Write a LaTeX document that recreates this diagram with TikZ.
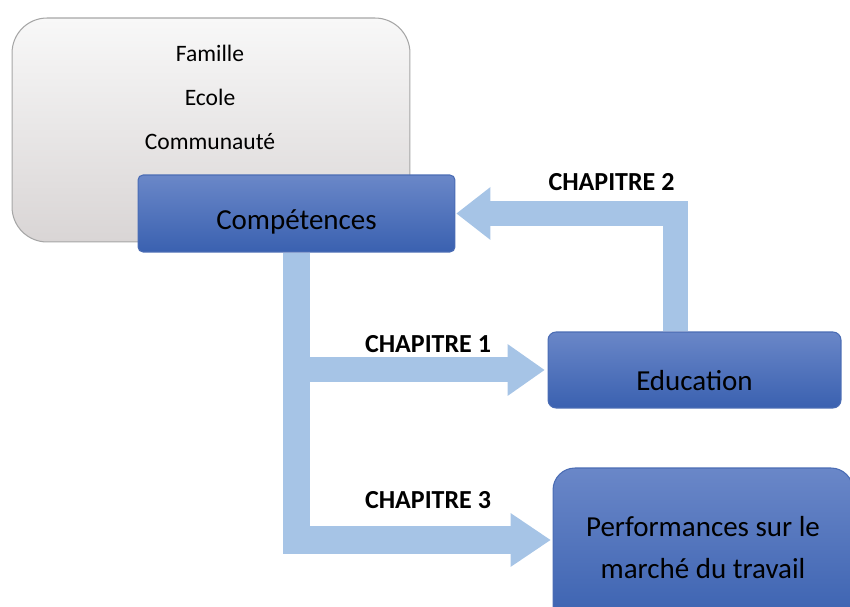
\documentclass[tikz,border=0pt]{standalone}
\usepackage{fontspec}
\setmainfont{Carlito}
\usetikzlibrary{arrows.meta}
\definecolor{bleuhaut}{RGB}{106,135,200}
\definecolor{bleubas}{RGB}{58,97,176}
\definecolor{bleubord}{RGB}{74,108,180}
\definecolor{grishaut}{RGB}{248,248,248}
\definecolor{grisbas}{RGB}{217,213,213}
\definecolor{grisbord}{RGB}{166,166,166}
\definecolor{fleche}{RGB}{166,196,230}
\tikzset{
  boite/.style={draw=bleubord, line width=0.6pt, top color=bleuhaut, bottom color=bleubas,
    font=\fontsize{16.5}{23.4}\selectfont, align=center},
  chapitre/.style={font=\fontsize{14.8}{18}\selectfont\bfseries, anchor=base},
  milieu/.style={font=\fontsize{13.4}{16}\selectfont, anchor=base},
  bloc/.style={draw=fleche, line width=0.5cm,
    -{Triangle[length=0.74cm,width=1.04cm,line width=0pt]}},
}
\begin{document}
\begin{tikzpicture}[x=0.02cm, y=-0.02cm]
    \useasboundingbox (0,0) rectangle (850,607);
    \clip (0,0) rectangle (850,607);

    % Environment: family, school, community
    \node[draw=grisbord, line width=0.6pt, top color=grishaut, bottom color=grisbas,
          rounded corners=0.7cm, minimum width=7.96cm, minimum height=4.48cm] (cadre) at (211,130) {};
    \node[milieu] (famille) at (210,62) {Famille};
    \node[milieu] (ecole) at (210,106) {Ecole};
    \node[milieu] (communaute) at (210,150) {Communauté};

    % Boxes
    \node[boite, rounded corners=0.1cm, minimum width=6.34cm, minimum height=1.54cm,
          text height=22pt, text depth=3.3pt] (comp) at (296.5,213.5) {Compétences};
    \node[boite, rounded corners=0.16cm, minimum width=5.86cm, minimum height=1.52cm,
          text height=27pt, text depth=3.3pt] (edu) at (694.5,370) {Education};
    \node[boite, rounded corners=0.44cm, minimum width=6cm, minimum height=3.18cm]
          (perf) at (703,547.5) {Performances sur le\\marché du travail};

    % Block arrows between the boxes
    \draw[bloc] (comp.south) |- ([xshift=-0.06cm]edu.west);
    \draw[bloc, line width=0.56cm, -{Triangle[length=0.8cm,width=1.08cm,line width=0pt]}]
        (comp.south) |- ([xshift=-0.04cm, yshift=0.15cm]perf.west);
    \draw[bloc, -{Triangle[length=0.68cm,width=1.06cm,line width=0pt]}]
        ([xshift=-0.38cm]edu.north) |- ([xshift=0.02cm]comp.east);

    % Chapter labels
    \node[chapitre] (ch1) at (428,352.5) {CHAPITRE 1};
    \node[chapitre] (ch2) at (611.5,190.5) {CHAPITRE 2};
    \node[chapitre] (ch3) at (428,509) {CHAPITRE 3};
\end{tikzpicture}
\end{document}
